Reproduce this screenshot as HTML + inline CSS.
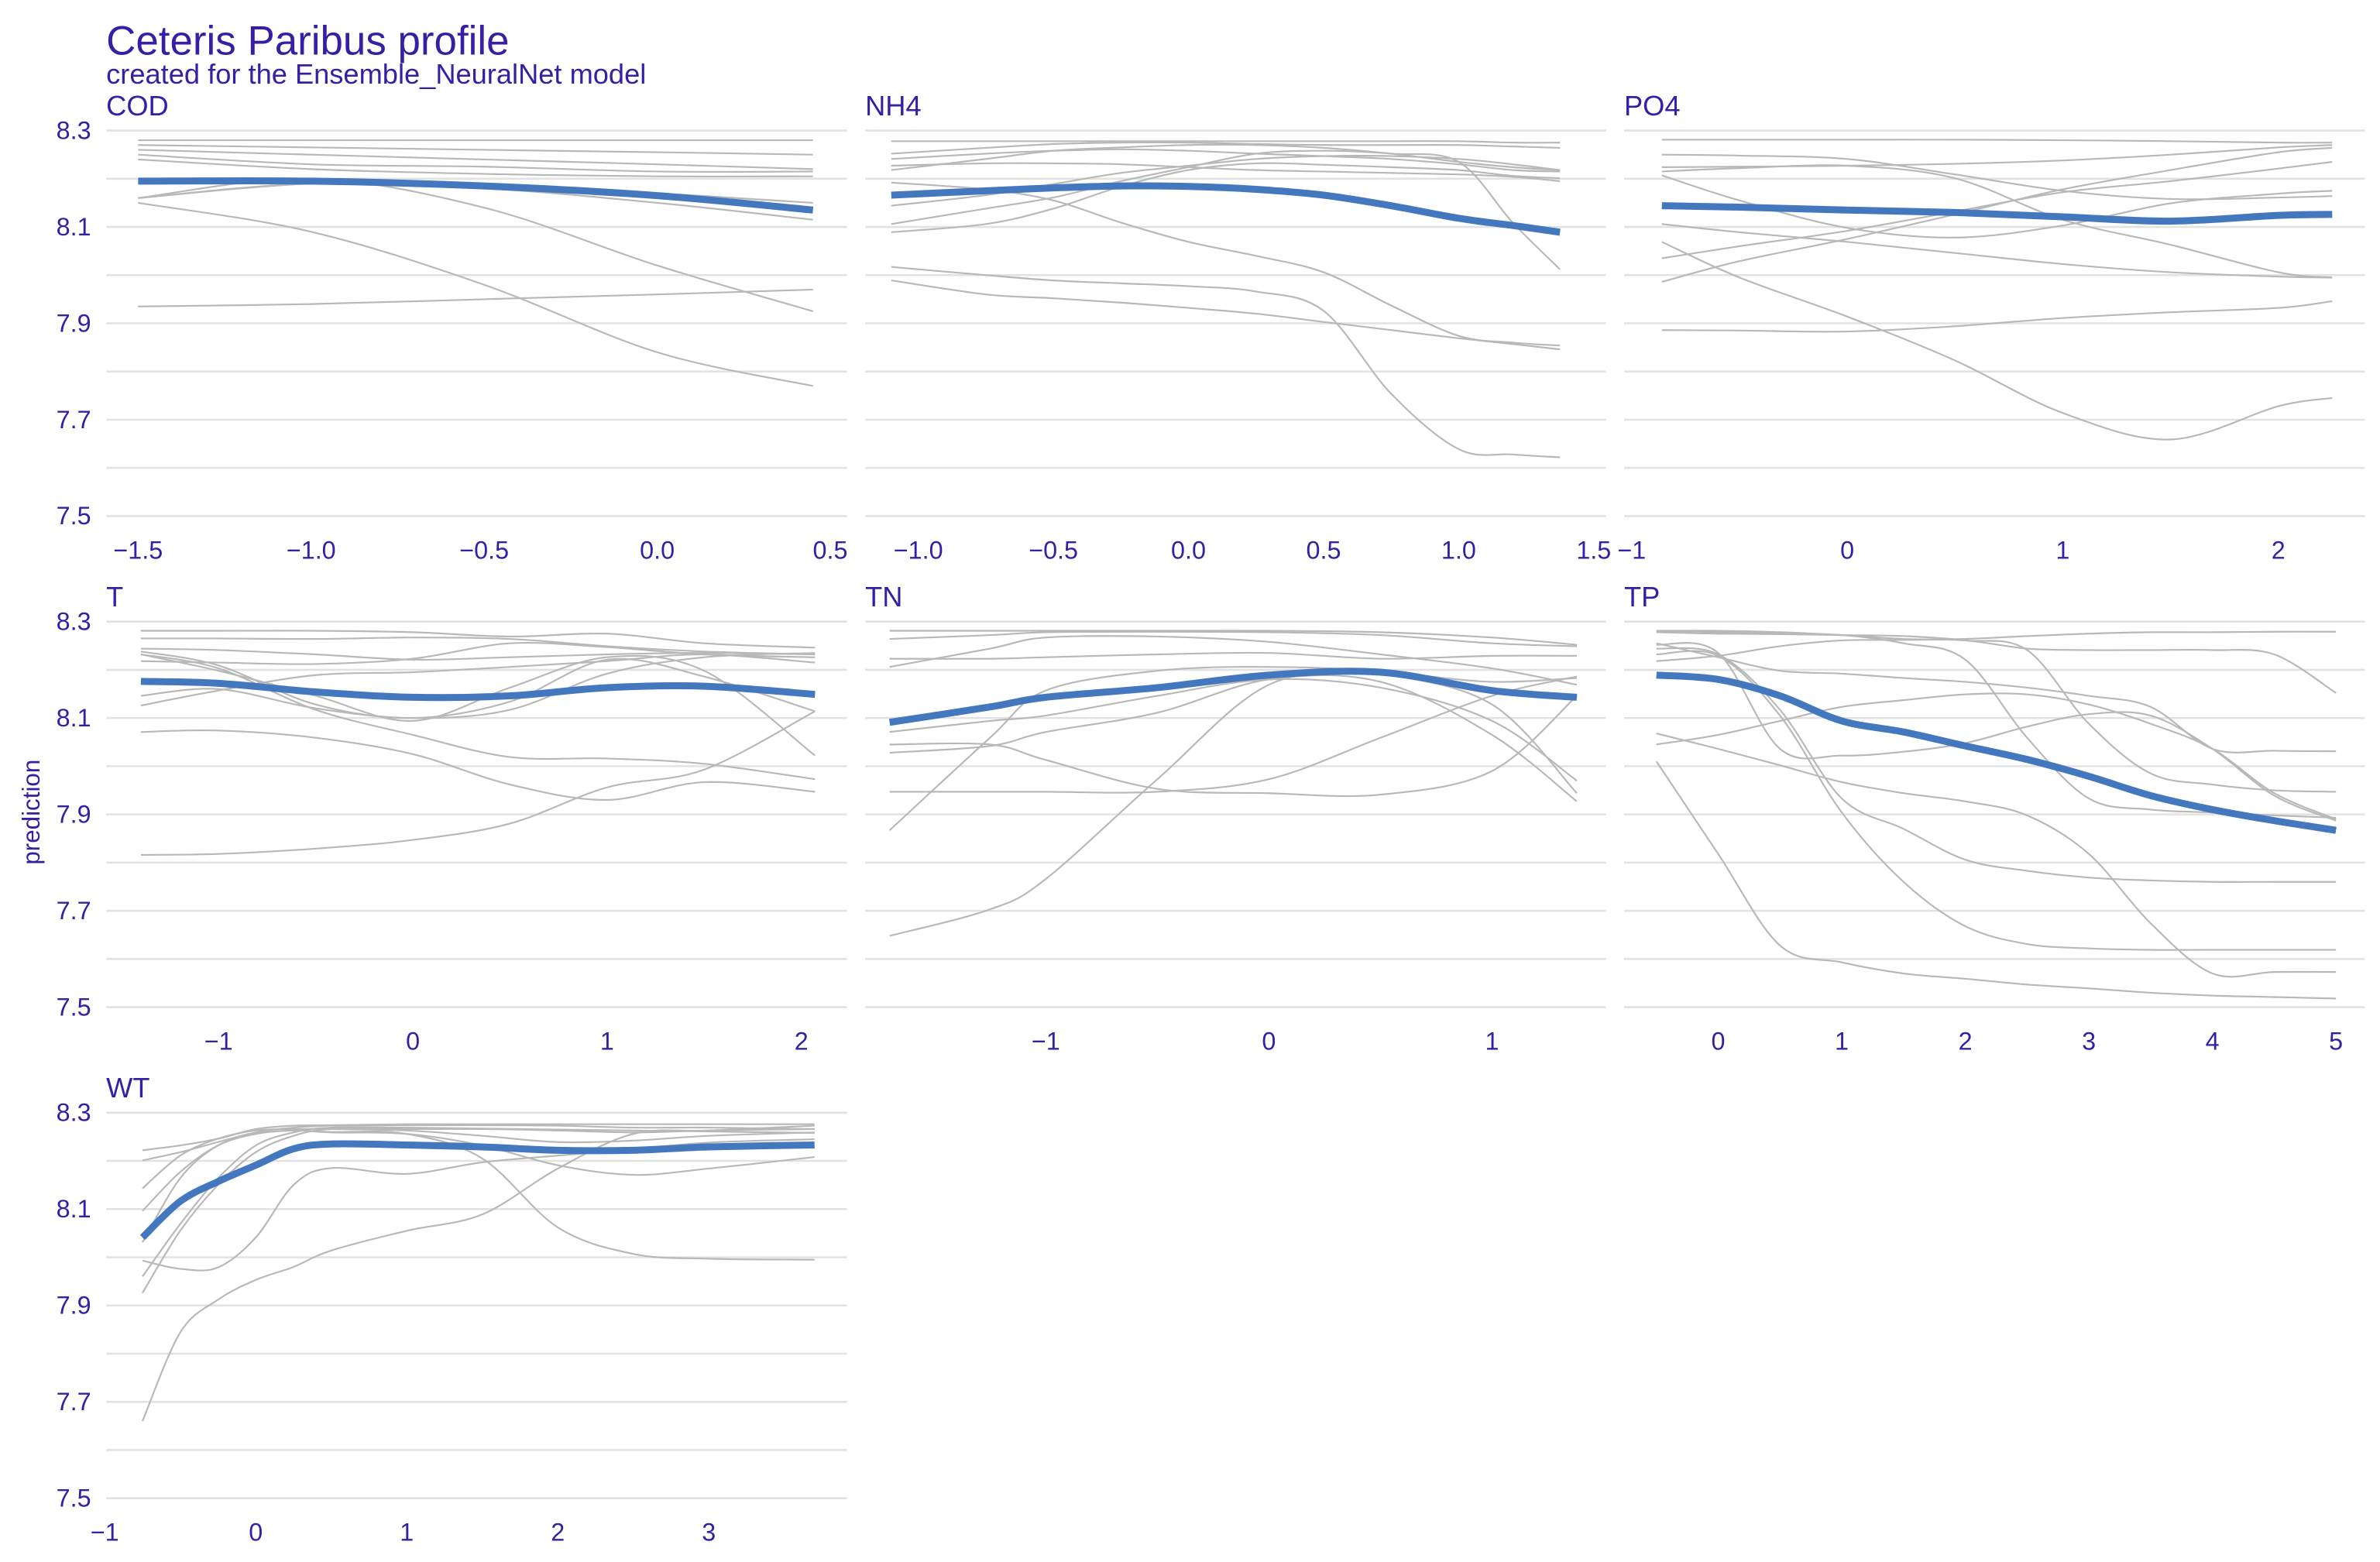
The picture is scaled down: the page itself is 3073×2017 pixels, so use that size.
<!DOCTYPE html>
<html><head><meta charset="utf-8"><style>
html,body{margin:0;padding:0;background:#fff;}
svg{display:block;}
text{font-family:"Liberation Sans",Arial,sans-serif;fill:#371ea3;}
</style></head><body>
<svg id="chart" width="3073" height="2017" viewBox="0 0 1568 1029" preserveAspectRatio="none" xmlns="http://www.w3.org/2000/svg">
<rect width="1568" height="1029" fill="#fff"/>
<text x="70" y="36" font-size="27">Ceteris Paribus profile</text>
<text x="70" y="55" font-size="18.5">created for the Ensemble_NeuralNet model</text>
<text x="0" y="0" font-size="16" text-anchor="middle" transform="translate(26,535) rotate(-90)">prediction</text>
<g id="panels"></g>
</svg>
<script>
// Y axis shared
const yTickValues = [8.3, 8.1, 7.9, 7.7, 7.5];
const yTickLabels = ["8.3", "8.1", "7.9", "7.7", "7.5"];
const yGridValues = [8.3, 8.2, 8.1, 8.0, 7.9, 7.8, 7.7, 7.6, 7.5];

// COD
const codX = [-1.5, -1.0, -0.5, 0.0, 0.45];
const codMean = [8.195, 8.195, 8.185, 8.165, 8.135];
const codProfiles = [
  [8.28, 8.28, 8.28, 8.28, 8.28],
  [8.27, 8.265, 8.26, 8.255, 8.25],
  [8.26, 8.25, 8.24, 8.23, 8.22],
  [8.25, 8.23, 8.225, 8.215, 8.215],
  [8.24, 8.22, 8.21, 8.205, 8.205],
  [8.16, 8.19, 8.19, 8.17, 8.15],
  [8.16, 8.19, 8.18, 8.15, 8.115],
  [8.16, 8.2, 8.14, 8.02, 7.925],
  [8.15, 8.09, 7.98, 7.84, 7.77],
  [7.935, 7.94, 7.95, 7.96, 7.97]
];
const codTicks = [-1.5, -1.0, -0.5, 0.0, 0.5];
const codTickLabels = ["\u22121.5", "\u22121.0", "\u22120.5", "0.0", "0.5"];

// NH4
const nh4X = [-1.1, -0.75, -0.5, -0.25, 0, 0.25, 0.5, 0.75, 1.0, 1.2, 1.375];
const nh4Mean = [8.166, 8.175, 8.181, 8.185, 8.184, 8.178, 8.166, 8.144, 8.118, 8.103, 8.089];
const nh4Profiles = [
  [8.278, 8.278, 8.278, 8.278, 8.278, 8.278, 8.278, 8.278, 8.278, 8.275, 8.275],
  [8.252, 8.264, 8.272, 8.275, 8.275, 8.272, 8.27, 8.27, 8.27, 8.267, 8.264],
  [8.241, 8.252, 8.258, 8.261, 8.258, 8.252, 8.247, 8.241, 8.23, 8.218, 8.215],
  [8.218, 8.241, 8.258, 8.265, 8.27, 8.27, 8.264, 8.252, 8.235, 8.224, 8.218],
  [8.227, 8.232, 8.232, 8.23, 8.224, 8.218, 8.215, 8.212, 8.209, 8.204, 8.195],
  [8.192, 8.178, 8.155, 8.109, 8.069, 8.04, 8.006, 7.937, 7.874, 7.86, 7.854],
  [8.144, 8.166, 8.189, 8.212, 8.227, 8.241, 8.247, 8.247, 8.241, 8.23, 8.218],
  [8.106, 8.138, 8.161, 8.195, 8.224, 8.252, 8.258, 8.252, 8.235, 8.109, 8.012],
  [8.089, 8.106, 8.138, 8.184, 8.218, 8.232, 8.229, 8.224, 8.218, 8.206, 8.201],
  [8.017, 8.0, 7.989, 7.983, 7.977, 7.966, 7.926, 7.754, 7.639, 7.628, 7.622],
  [7.989, 7.96, 7.952, 7.943, 7.932, 7.92, 7.903, 7.886, 7.869, 7.857, 7.846]
];
const nh4Ticks = [-1.0, -0.5, 0.0, 0.5, 1.0, 1.5];
const nh4TickLabels = ["\u22121.0", "\u22120.5", "0.0", "0.5", "1.0", "1.5"];

// PO4
const po4X = [-0.86, -0.5, 0, 0.5, 1, 1.5, 2, 2.25];
const po4Mean = [8.144, 8.141, 8.135, 8.13, 8.121, 8.112, 8.124, 8.126];
const po4Profiles = [
  [8.281, 8.281, 8.281, 8.281, 8.28, 8.278, 8.275, 8.275],
  [8.25, 8.248, 8.241, 8.209, 8.175, 8.158, 8.161, 8.164],
  [8.224, 8.225, 8.227, 8.231, 8.238, 8.25, 8.265, 8.27],
  [8.215, 8.222, 8.227, 8.201, 8.115, 8.063, 8.006, 7.995],
  [8.207, 8.155, 8.098, 8.078, 8.103, 8.149, 8.169, 8.175],
  [8.106, 8.089, 8.069, 8.046, 8.023, 8.006, 7.997, 7.995],
  [8.035, 8.06, 8.092, 8.132, 8.172, 8.195, 8.221, 8.235],
  [7.986, 8.029, 8.075, 8.126, 8.178, 8.218, 8.255, 8.264],
  [8.069, 7.995, 7.914, 7.823, 7.714, 7.659, 7.728, 7.745],
  [7.886, 7.885, 7.883, 7.894, 7.911, 7.923, 7.932, 7.946]
];
const po4Ticks = [-1, 0, 1, 2];
const po4TickLabels = ["\u22121", "0", "1", "2"];

// T
const tX = [-1.4, -1, -0.5, 0, 0.5, 1, 1.5, 2.07];
const tMean = [8.176, 8.172, 8.154, 8.143, 8.146, 8.163, 8.166, 8.149];
const tProfiles = [
  [8.281, 8.281, 8.281, 8.278, 8.269, 8.275, 8.255, 8.246],
  [8.265, 8.265, 8.264, 8.267, 8.264, 8.249, 8.238, 8.232],
  [8.244, 8.241, 8.232, 8.221, 8.226, 8.232, 8.235, 8.232],
  [8.218, 8.215, 8.212, 8.223, 8.255, 8.247, 8.232, 8.226],
  [8.146, 8.16, 8.12, 8.1, 8.117, 8.192, 8.226, 8.235],
  [8.238, 8.209, 8.128, 8.1, 8.134, 8.221, 8.186, 8.114],
  [8.126, 8.157, 8.189, 8.195, 8.206, 8.218, 8.232, 8.215],
  [8.232, 8.203, 8.117, 8.065, 8.019, 8.016, 8.005, 7.973],
  [8.071, 8.074, 8.059, 8.025, 7.962, 7.93, 7.967, 7.947],
  [8.232, 8.198, 8.146, 8.094, 8.163, 8.226, 8.198, 8.022],
  [7.816, 7.818, 7.829, 7.847, 7.881, 7.956, 7.993, 8.114]
];
const tTicks = [-1, 0, 1, 2];
const tTickLabels = ["\u22121", "0", "1", "2"];

// TN
const tnX = [-1.7, -1.25, -1, -0.5, 0, 0.5, 1, 1.38];
const tnMean = [8.091, 8.123, 8.143, 8.163, 8.189, 8.195, 8.157, 8.143];
const tnProfiles = [
  [8.281, 8.281, 8.281, 8.281, 8.281, 8.278, 8.267, 8.252],
  [8.264, 8.272, 8.278, 8.279, 8.278, 8.272, 8.255, 8.249],
  [8.206, 8.244, 8.267, 8.269, 8.258, 8.232, 8.203, 8.169],
  [8.223, 8.223, 8.226, 8.232, 8.235, 8.223, 8.229, 8.229],
  [8.071, 8.094, 8.105, 8.146, 8.18, 8.163, 8.094, 7.97],
  [8.028, 8.042, 8.071, 8.111, 8.18, 8.175, 8.065, 7.927],
  [8.045, 8.045, 8.013, 7.953, 7.944, 7.941, 7.99, 8.146],
  [7.947, 7.947, 7.947, 7.947, 7.973, 8.059, 8.146, 8.186],
  [7.867, 8.059, 8.157, 8.198, 8.206, 8.192, 8.128, 7.944],
  [7.648, 7.703, 7.766, 7.973, 8.169, 8.192, 8.175, 8.183]
];
const tnTicks = [-1, 0, 1];
const tnTickLabels = ["\u22121", "0", "1"];

// TP
const tpX = [-0.5, 0, 0.5, 1, 1.5, 2, 2.5, 3, 3.5, 4, 4.5, 5];
const tpMean = [8.189, 8.18, 8.146, 8.094, 8.071, 8.042, 8.014, 7.979, 7.939, 7.91, 7.887, 7.867];
const tpProfiles = [
  [8.218, 8.229, 8.249, 8.261, 8.262, 8.264, 8.27, 8.275, 8.278, 8.278, 8.279, 8.279],
  [8.281, 8.281, 8.278, 8.272, 8.264, 8.261, 8.244, 8.241, 8.241, 8.241, 8.232, 8.152],
  [8.252, 8.235, 8.036, 8.022, 8.03, 8.048, 8.082, 8.108, 8.105, 8.036, 7.939, 7.887],
  [8.045, 8.065, 8.094, 8.123, 8.137, 8.149, 8.149, 8.128, 8.088, 8.036, 7.944, 7.89],
  [8.068, 8.036, 8.002, 7.967, 7.944, 7.927, 7.898, 7.818, 7.674, 7.57, 7.573, 7.573],
  [8.01, 7.818, 7.628, 7.593, 7.57, 7.559, 7.547, 7.539, 7.53, 7.524, 7.521, 7.518],
  [8.232, 8.229, 8.105, 7.904, 7.76, 7.668, 7.631, 7.622, 7.619, 7.619, 7.619, 7.619],
  [8.244, 8.232, 8.117, 7.933, 7.87, 7.806, 7.783, 7.769, 7.763, 7.76, 7.76, 7.76],
  [8.255, 8.226, 8.198, 8.192, 8.183, 8.175, 8.163, 8.146, 8.123, 8.036, 8.032, 8.031],
  [8.281, 8.278, 8.275, 8.272, 8.255, 8.221, 8.059, 7.933, 7.91, 7.904, 7.898, 7.893],
  [8.278, 8.275, 8.274, 8.272, 8.27, 8.261, 8.241, 8.088, 7.985, 7.962, 7.95, 7.947]
];
const tpTicks = [0, 1, 2, 3, 4, 5];
const tpTickLabels = ["0", "1", "2", "3", "4", "5"];

// WT
const wtX = [-0.75, -0.5, -0.25, 0, 0.25, 0.5, 1, 1.5, 2, 2.5, 3, 3.7];
const wtMean = [8.041, 8.116, 8.157, 8.191, 8.225, 8.235, 8.233, 8.229, 8.222, 8.222, 8.229, 8.233];
const wtProfiles = [
  [8.222, 8.232, 8.246, 8.266, 8.273, 8.274, 8.276, 8.276, 8.276, 8.276, 8.276, 8.276],
  [8.201, 8.218, 8.239, 8.259, 8.269, 8.273, 8.274, 8.274, 8.273, 8.269, 8.269, 8.266],
  [8.143, 8.211, 8.246, 8.263, 8.266, 8.266, 8.263, 8.252, 8.239, 8.242, 8.252, 8.259],
  [8.096, 8.177, 8.232, 8.256, 8.263, 8.259, 8.256, 8.232, 8.191, 8.171, 8.184, 8.208],
  [7.993, 7.976, 7.979, 8.041, 8.15, 8.185, 8.173, 8.197, 8.211, 8.224, 8.238, 8.245],
  [8.031, 8.164, 8.232, 8.256, 8.263, 8.26, 8.256, 8.205, 8.062, 8.007, 7.997, 7.995],
  [7.66, 7.844, 7.912, 7.953, 7.98, 8.014, 8.055, 8.089, 8.184, 8.256, 8.263, 8.273],
  [7.926, 8.055, 8.15, 8.218, 8.252, 8.266, 8.266, 8.266, 8.263, 8.259, 8.263, 8.266],
  [7.96, 8.069, 8.164, 8.232, 8.259, 8.269, 8.269, 8.267, 8.265, 8.263, 8.261, 8.258]
];
const wtTicks = [-1, 0, 1, 2, 3];
const wtTickLabels = ["\u22121", "0", "1", "2", "3"];

const NS = "http://www.w3.org/2000/svg";
const root = document.getElementById("panels");
const colLeft = [70, 570, 1070];
const panelW = 488;
const rowTop = [86, 409.5, 733];
const yPerUnit = 317.5;

function mk(tag, attrs, parent) {
  const e = document.createElementNS(NS, tag);
  for (const k in attrs) e.setAttribute(k, attrs[k]);
  parent.appendChild(e);
  return e;
}
function smoothPath(pts) {
  let d = "M" + pts[0][0].toFixed(2) + "," + pts[0][1].toFixed(2);
  for (let i = 0; i < pts.length - 1; i++) {
    const p0 = pts[Math.max(0, i - 1)], p1 = pts[i], p2 = pts[i + 1], p3 = pts[Math.min(pts.length - 1, i + 2)];
    const c1x = p1[0] + (p2[0] - p0[0]) / 6, c1y = p1[1] + (p2[1] - p0[1]) / 6;
    const c2x = p2[0] - (p3[0] - p1[0]) / 6, c2y = p2[1] - (p3[1] - p1[1]) / 6;
    d += "C" + c1x.toFixed(2) + "," + c1y.toFixed(2) + " " + c2x.toFixed(2) + "," + c2y.toFixed(2) + " " + p2[0].toFixed(2) + "," + p2[1].toFixed(2);
  }
  return d;
}

const panels = [
  {name: "COD", col: 0, row: 0, x: codX, mean: codMean, prof: codProfiles, ticks: codTicks, labels: codTickLabels, a: [-1.5, 91], b: [0.5, 547]},
  {name: "NH4", col: 1, row: 0, x: nh4X, mean: nh4Mean, prof: nh4Profiles, ticks: nh4Ticks, labels: nh4TickLabels, a: [-1.0, 605], b: [1.5, 1050]},
  {name: "PO4", col: 2, row: 0, x: po4X, mean: po4Mean, prof: po4Profiles, ticks: po4Ticks, labels: po4TickLabels, a: [0, 1217], b: [2, 1501]},
  {name: "T", col: 0, row: 1, x: tX, mean: tMean, prof: tProfiles, ticks: tTicks, labels: tTickLabels, a: [-1, 144], b: [2, 528]},
  {name: "TN", col: 1, row: 1, x: tnX, mean: tnMean, prof: tnProfiles, ticks: tnTicks, labels: tnTickLabels, a: [-1, 689], b: [1, 983]},
  {name: "TP", col: 2, row: 1, x: tpX, mean: tpMean, prof: tpProfiles, ticks: tpTicks, labels: tpTickLabels, a: [0, 1132], b: [5, 1539]},
  {name: "WT", col: 0, row: 2, x: wtX, mean: wtMean, prof: wtProfiles, ticks: wtTicks, labels: wtTickLabels, a: [-1, 69], b: [3, 467]}
];

panels.forEach(p => {
  const key = p.name.toLowerCase();
  const g = mk("g", {}, root);
  
  
  const left = colLeft[p.col], top = rowTop[p.row];
  const xs = v => p.a[1] + (v - p.a[0]) * (p.b[1] - p.a[1]) / (p.b[0] - p.a[0]);
  const ys = v => top + (8.3 - v) * yPerUnit;

  yGridValues.forEach(v => {
    const l = mk("line", {x1: left, x2: left + panelW, y1: ys(v), y2: ys(v), stroke: "#e2e2e2", "stroke-width": 1.3}, g);
    
    
  });
  if (p.col === 0) {
    yTickValues.forEach((v, i) => {
      const t = mk("text", {x: 60, y: ys(v) + 5.5, "font-size": 16.5, "text-anchor": "end"}, g);
      t.textContent = yTickLabels[i];
      
      
    });
  }
  p.ticks.forEach((v, i) => {
    const t = mk("text", {x: xs(v), y: top + 282, "font-size": 16.5, "text-anchor": "middle"}, g);
    t.textContent = p.labels[i];
    
    
  });
  const st = mk("text", {x: left, y: top - 10, "font-size": 18.5}, g);
  st.textContent = p.name;
  
  

  p.prof.forEach(arr => {
    const pts = p.x.map((xv, i) => [xs(xv), ys(arr[i])]);
    const path = mk("path", {d: smoothPath(pts), fill: "none", stroke: "#b8b8b8", "stroke-width": 1.1}, g);
    
    
  });
  const mpts = p.x.map((xv, i) => [xs(xv), ys(p.mean[i])]);
  const mp = mk("path", {d: smoothPath(mpts), fill: "none", stroke: "#4378bf", "stroke-width": 4.6}, g);
  
  
});
</script>
</body></html>
